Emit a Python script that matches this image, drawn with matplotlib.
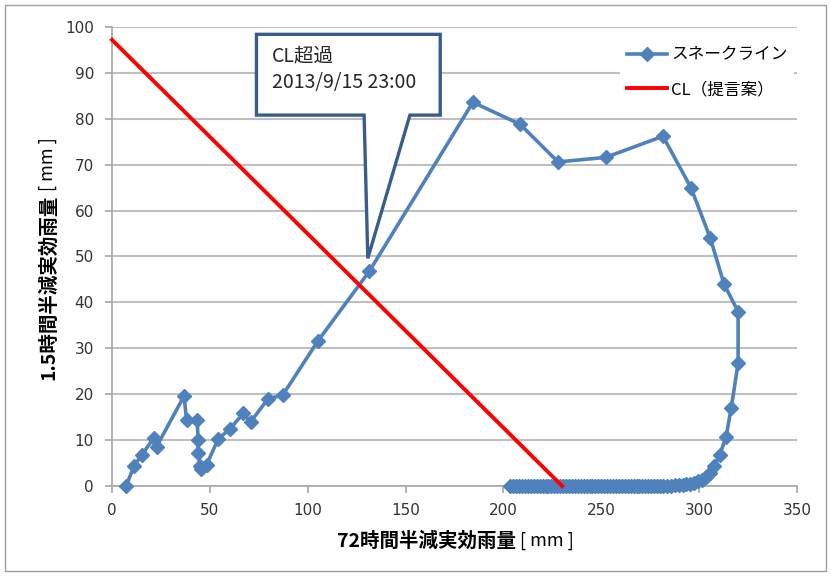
import matplotlib
matplotlib.use("Agg")
import matplotlib.pyplot as plt
from matplotlib.patches import Polygon, Rectangle
from matplotlib.font_manager import FontProperties

# snake line: 72h effective rainfall (x) vs 1.5h effective rainfall (y), in time order
snake_x = [7.2, 11.3, 15.3, 21.2, 22.8, 36.8, 38.1, 43.5, 44.0, 44.0,
           44.8, 45.6, 48.3, 54.2, 60.1, 67.1, 70.9, 79.7, 87.2, 105.2,
           131.5, 184.4, 208.5, 227.9, 252.3, 281.5, 295.8, 305.7, 312.7, 319.9,
           319.9, 316.4, 313.7, 310.5, 307.8, 305.7, 303.5, 301.5, 299.5, 297.5,
           295.5, 293.5, 291.5, 289.5, 287.5, 285.5, 283.5, 281.5,
           280.0, 278.5, 277.0, 275.5, 274.0, 272.5, 271.0, 269.5, 268.0, 266.5,
           265.0, 263.5, 262.0, 260.5, 259.0, 257.5, 256.0, 254.5, 253.0, 251.5,
           250.0, 248.5, 247.0, 245.5, 244.0, 242.5, 241.0, 239.5, 238.0, 236.5,
           235.0, 233.5, 232.0, 230.5, 229.0, 227.5, 226.0, 224.5, 223.0, 221.5,
           220.0, 218.5, 217.0, 215.5, 214.0, 212.5, 211.0, 209.5, 208.0, 206.5,
           205.0, 203.5]
snake_y = [0.0, 4.4, 6.8, 10.4, 8.6, 19.6, 14.4, 14.4, 10.0, 7.2,
           4.4, 3.6, 4.6, 10.2, 12.4, 15.8, 14.0, 19.0, 19.8, 31.6,
           46.8, 83.6, 78.8, 70.6, 71.6, 76.2, 65.0, 54.0, 44.0, 38.0,
           26.8, 17.0, 10.6, 6.8, 4.4, 2.8, 2.0, 1.4, 1.0, 0.7,
           0.5, 0.35, 0.25, 0.18, 0.12, 0.08, 0.05, 0.03,
           0.02, 0.01, 0.0, 0.0, 0.0, 0.0, 0.0, 0.0, 0.0, 0.0,
           0.0, 0.0, 0.0, 0.0, 0.0, 0.0, 0.0, 0.0, 0.0, 0.0,
           0.0, 0.0, 0.0, 0.0, 0.0, 0.0, 0.0, 0.0, 0.0, 0.0,
           0.0, 0.0, 0.0, 0.0, 0.0, 0.0, 0.0, 0.0, 0.0, 0.0,
           0.0, 0.0, 0.0, 0.0, 0.0, 0.0, 0.0, 0.0, 0.0, 0.0,
           0.0, 0.0]

# critical line (proposal)
cl_x = [0, 230]
cl_y = [97.2, 0]

series_labels = ["スネークライン", "CL（提言案）"]
callout_lines = ["CL超過", "2013/9/15 23:00"]
x_label = "72時間半減実効雨量"
y_label = "1.5時間半減実効雨量"
unit_label = " [ mm ]"
x_ticks = [0, 50, 100, 150, 200, 250, 300, 350]
y_ticks = [0, 10, 20, 30, 40, 50, 60, 70, 80, 90, 100]

JP = "Noto Sans CJK JP"
plt.rcParams['font.family'] = ['DejaVu Sans', JP]

fig = plt.figure(figsize=(8.31, 5.76), dpi=100)
ax = fig.add_axes([0.1348, 0.15625, 0.8243, 0.7969])

ax.plot(snake_x, snake_y, color='#4F81BD', lw=2.6, marker='D', ms=7.5,
        label=series_labels[0], clip_on=False, zorder=3)
ax.plot(cl_x, cl_y, color='#FF0000', lw=2.8, label=series_labels[1],
        clip_on=False, zorder=4)

ax.set_xlim(0, 350)
ax.set_ylim(0, 100)
ax.set_xticks(x_ticks)
ax.set_yticks(y_ticks)
ax.yaxis.grid(True, color='#BFBFBF', lw=1.5)
ax.set_axisbelow(True)
for side in ['top', 'right']:
    ax.spines[side].set_visible(False)
for side in ['left', 'bottom']:
    ax.spines[side].set_color('#A6A6A6')
    ax.spines[side].set_linewidth(1.2)
ax.tick_params(direction='out', length=5, width=1.2, color='#A6A6A6',
               labelsize=11, labelcolor='#333333')
ax.tick_params(axis='y', pad=8)
ax.tick_params(axis='x', pad=7)

# axis titles: bold japanese part + regular unit
ax.text(0.59, -0.12, x_label, transform=ax.transAxes, ha='right', va='center',
        fontsize=14, fontweight='bold', family=JP)
ax.text(0.59, -0.12, unit_label, transform=ax.transAxes, ha='left', va='center',
        fontsize=13, family=JP)
ax.text(-0.093, 0.634, y_label, transform=ax.transAxes, rotation=90,
        rotation_mode='anchor', ha='right', va='center',
        fontsize=14, fontweight='bold', family=JP)
ax.text(-0.093, 0.634, unit_label, transform=ax.transAxes, rotation=90,
        rotation_mode='anchor', ha='left', va='center', fontsize=13, family=JP)

# callout box with pointer
callout = Polygon([(73.8, 98.4), (167.7, 98.4), (167.7, 80.8), (152.2, 80.8),
                   (130.7, 49.6), (128.8, 80.8), (73.8, 80.8)],
                  closed=True, fc='white', ec='#385D8A', lw=2.4,
                  joinstyle='miter', zorder=5, clip_on=False)
ax.add_patch(callout)
ax.text(81.9, 93.6, callout_lines[0], ha='left', va='center', fontsize=14,
        family=JP, color='#262626', zorder=6)
ax.text(81.9, 87.8, callout_lines[1], ha='left', va='center', fontsize=14,
        family=JP, color='#262626', zorder=6)

leg = ax.legend(loc='upper left', bbox_to_anchor=(0.7416, 0.972),
                borderaxespad=0, frameon=True, fancybox=False,
                facecolor='white', edgecolor='none', framealpha=1,
                borderpad=0.4, handlelength=2.4, handletextpad=0.25,
                labelspacing=1.05, prop=FontProperties(family=JP, size=12))
leg.set_zorder(7)

# outer chart frame
fig.add_artist(Rectangle((5 / 831, 5 / 576), 821 / 831, 566 / 576,
                         transform=fig.transFigure, fill=False,
                         ec='#A0A0A0', lw=1))

fig.savefig("out.png", dpi=100)
